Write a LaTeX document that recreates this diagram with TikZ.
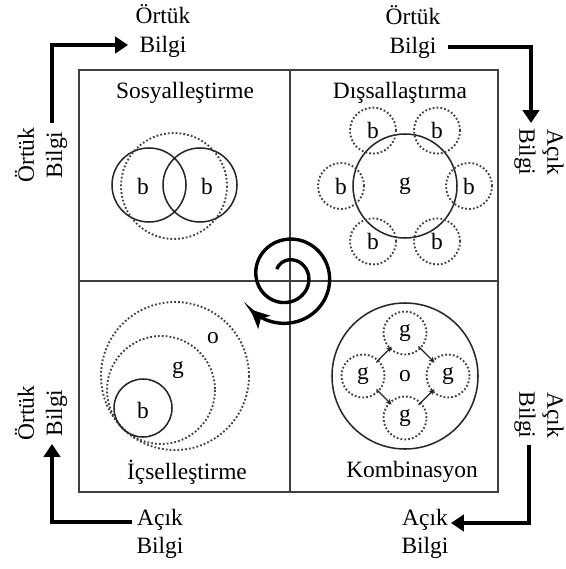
\documentclass[tikz,border=0pt]{standalone}
\usepackage{fontspec}
\setmainfont{Liberation Serif}
\usetikzlibrary{arrows.meta}

\begin{document}
\begin{tikzpicture}[x=0.03cm, y=-0.03cm, font=\fontsize{20}{24}\selectfont,
    quadline/.style={draw=black!75, line width=1.3pt},
    ring/.style={draw=black!85, line width=1.3pt},
    dotring/.style={draw=black!75, line width=1.6pt, dash pattern=on 1.5pt off 1.8pt},
    bnode/.style={circle, dotring, minimum size=1.38cm, inner sep=0pt},
    gnode/.style={circle, dotring, minimum size=1.29cm, inner sep=0pt},
    flow/.style={-{Triangle[length=11pt, width=14pt]}, line width=4pt},
    swirl/.style={-{Stealth[length=16pt, width=15pt, inset=4pt]}, line width=2.9pt},
    comb/.style={-{Stealth[length=5pt, width=4.5pt]}, line width=1.1pt, draw=black!85, shorten <=-3pt, shorten >=-3pt},
    pair/.style={align=center, inner sep=1pt}]

    \useasboundingbox (0,0) rectangle (565,569);

    \draw[quadline] (79,70) rectangle (498,492);
    \draw[quadline] (290,70) -- (290,492) (79,281) -- (498,281);

    \node (sos) at (185,93) {Sosyalleştirme};
    \node (dis) at (400,93) {Dışsallaştırma};
    \node (ics) at (187,472) {İçselleştirme};
    \node (kom) at (412,472) {Kombinasyon};

    % sosyallestirme
    \draw[ring] (149,185) circle[radius=37] (200,185) circle[radius=37];
    \draw[dotring] (174,186) circle[radius=53];
    \node (sb1) at (143,186) {b};
    \node (sb2) at (207,186) {b};

    % dissallastirma
    \node[circle, ring, minimum size=3.12cm] (dg) at (405,186) {g};
    \foreach \a [count=\i] in {0,60,...,300}
        \node[bnode] (db\i) at ([shift={(\a:64)}]dg) {b};

    % icsellestirme
    \draw[dotring] (175,376) circle[radius=74];
    \draw[dotring] (161,390) circle[radius=54];
    \draw[ring] (143,408) circle[radius=29];
    \node (io) at (213,338) {o};
    \node (ig) at (178,370) {g};
    \node (ib) at (143,410) {b};

    % kombinasyon
    \node[circle, ring, minimum size=4.38cm] (ko) at (405,376) {o};
    \node[gnode] (kr) at ([shift={(0:43)}]ko) {g};
    \node[gnode] (kb) at ([shift={(90:42)}]ko) {g};
    \node[gnode] (kl) at ([shift={(180:42)}]ko) {g};
    \node[gnode] (kt) at ([shift={(270:43)}]ko) {g};
\path[comb]
        (kl) edge (kt)
        (kt) edge (kr)
        (kl) edge (kb)
        (kb) edge (kr)
;

    \draw[swirl] plot[domain=0:645, samples=140, smooth, variable=\p]
        ({287.5+(12.6+0.058*\p)*cos(147-\p)}, {276-(12.6+0.058*\p)*sin(147-\p)});

    % corner labels and arrows
    \node[pair, rotate=90] (tlside) at (41,155) {Örtük\\Bilgi};
    \node[pair] (tltop) at (163,31) {Örtük\\Bilgi};
    \node[pair] (trtop) at (413,32) {Örtük\\Bilgi};
    \node[pair, rotate=-90] (trside) at (539,152) {Açık\\Bilgi};
    \node[pair, rotate=-90] (brside) at (539,415) {Açık\\Bilgi};
    \node[pair] (brbot) at (425,534) {Açık\\Bilgi};
    \node[pair] (blbot) at (160,534) {Açık\\Bilgi};
    \node[pair, rotate=90] (blside) at (41,413) {Örtük\\Bilgi};

    \coordinate (tlfrom) at (52,123);
    \coordinate (tlto) at (128,45);
    \coordinate (trfrom) at (448,47);
    \coordinate (trto) at (531,123);
    \coordinate (brfrom) at (529,445);
    \coordinate (brto) at (451,523);
    \coordinate (blfrom) at (132,522);
    \coordinate (blto) at (52,444);

    \draw[flow] (tlfrom) |- (tlto);
    \draw[flow] (trfrom) -| (trto);
    \draw[flow] (brfrom) |- (brto);
    \draw[flow] (blfrom) -| (blto);
\end{tikzpicture}
\end{document}
